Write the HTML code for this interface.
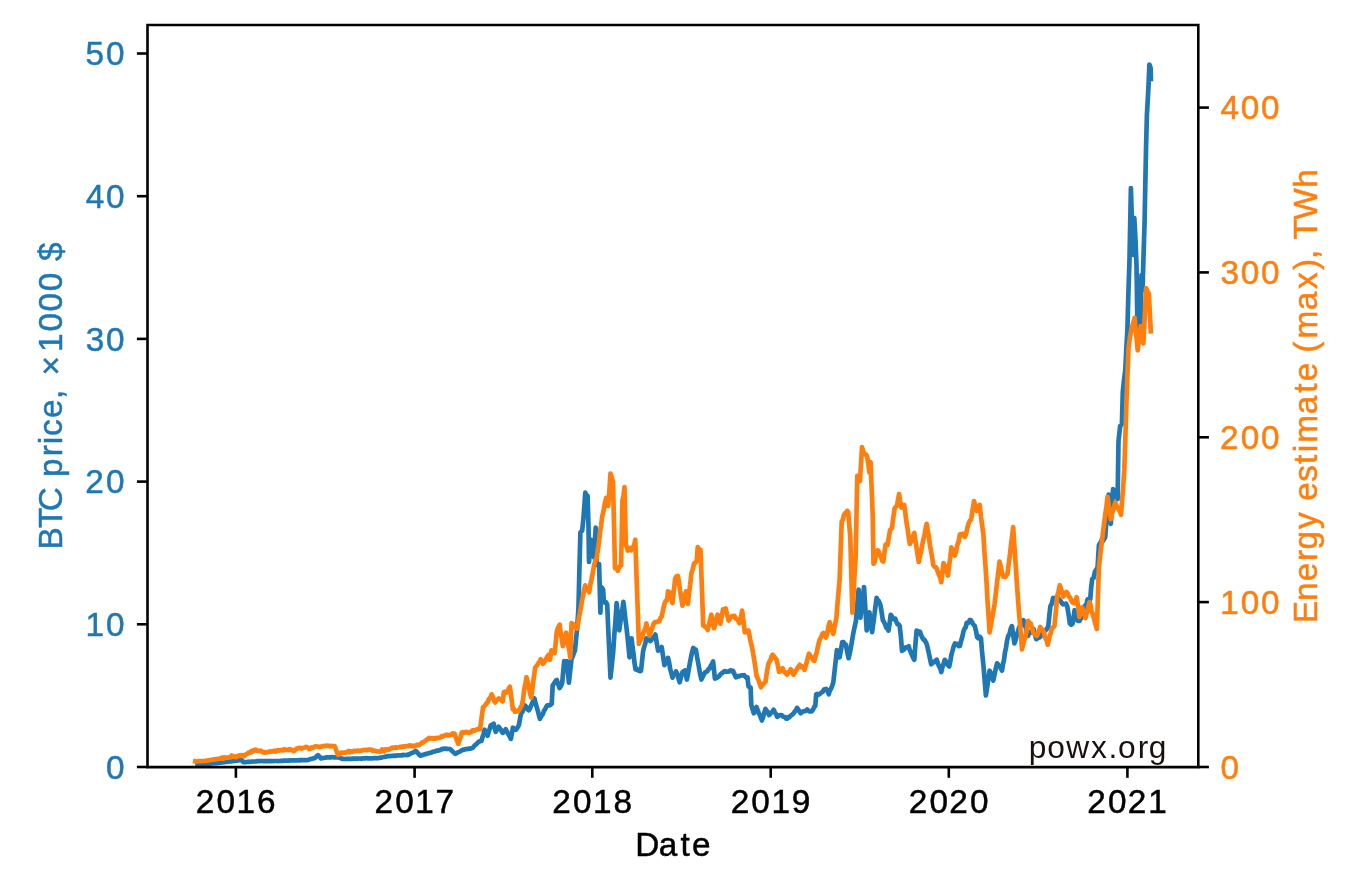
<!DOCTYPE html><html><head><meta charset="utf-8"><style>html,body{margin:0;padding:0;background:#fff;overflow:hidden}svg{display:block;will-change:transform}text{font-family:"Liberation Sans",sans-serif}</style></head><body>
<svg width="1353" height="889" viewBox="0 0 1353 889">
<rect width="1353" height="889" fill="#fff"/>
<polyline points="197.6,765.2 198.6,765.1 199.6,765.0 200.7,764.8 201.7,764.6 202.7,764.5 203.7,764.4 204.7,764.2 205.8,764.1 206.8,764.0 207.8,763.9 208.8,763.8 209.9,763.7 210.9,763.5 212.0,763.5 213.0,763.3 214.0,763.1 215.1,763.2 216.1,763.0 217.2,763.1 218.2,762.8 219.3,762.7 220.3,762.7 221.3,762.5 222.4,762.4 223.4,762.2 224.5,762.1 225.5,762.0 226.5,762.0 227.5,761.8 228.5,761.6 229.5,761.4 230.5,761.4 231.5,761.3 232.5,761.2 233.5,761.0 234.5,761.0 235.5,760.7 236.5,760.6 237.5,760.6 238.5,760.3 239.5,760.2 240.5,760.1 241.5,760.0 242.5,761.3 243.5,762.2 244.5,762.1 245.6,762.1 246.6,762.0 247.6,761.9 248.6,761.7 249.7,761.9 250.7,761.7 251.7,761.7 252.8,761.5 253.8,761.5 254.8,761.5 255.9,761.5 256.9,761.2 257.9,761.1 258.9,761.1 260.0,761.1 261.0,761.0 262.0,761.0 263.0,761.1 264.0,761.0 265.0,761.1 266.0,761.2 267.0,761.1 268.0,761.0 269.0,761.1 270.0,761.2 271.0,761.2 272.0,761.0 273.0,761.1 274.0,761.0 275.0,761.0 276.0,761.0 277.0,761.0 278.0,761.1 279.0,761.0 280.0,761.0 281.0,760.8 282.0,760.8 283.0,760.8 284.0,760.5 285.0,760.7 286.0,760.7 287.0,760.6 288.0,760.7 289.0,760.6 290.0,760.4 291.0,760.5 292.0,760.4 293.0,760.4 294.0,760.4 295.0,760.5 296.0,760.4 297.0,760.3 298.0,760.4 299.0,760.1 300.0,760.4 301.0,760.1 302.0,760.2 303.0,760.1 304.0,760.0 305.0,760.1 306.0,760.2 307.0,760.1 308.0,760.0 309.0,759.6 310.0,759.3 311.0,758.9 312.1,758.7 313.1,758.4 314.1,758.2 315.1,757.8 316.6,756.3 318.0,755.2 319.0,756.2 320.0,757.2 321.0,758.4 322.2,758.1 323.4,758.0 324.5,757.8 325.7,757.6 326.9,757.3 328.0,757.4 329.0,757.4 330.1,757.2 331.2,757.4 332.3,757.1 333.3,757.3 334.4,757.5 335.5,757.3 336.6,757.3 337.6,757.3 338.7,757.3 339.9,757.9 341.1,758.4 342.3,759.0 343.3,758.9 344.3,759.0 345.4,759.0 346.4,758.9 347.4,758.9 348.4,758.9 349.4,758.9 350.5,758.8 351.5,758.8 352.5,758.7 353.5,758.6 354.5,758.6 355.5,758.7 356.6,758.7 357.6,758.6 358.6,758.5 359.6,758.5 360.6,758.7 361.7,758.6 362.7,758.4 363.7,758.4 364.7,758.4 365.7,758.2 366.8,758.2 367.8,758.3 368.8,758.3 369.8,758.3 370.8,758.3 371.9,758.3 372.9,758.3 373.9,758.1 374.9,758.0 375.9,758.1 377.0,758.3 378.0,758.1 379.0,758.0 380.0,757.7 381.1,757.6 382.1,757.5 383.1,757.0 384.2,757.0 385.2,756.6 386.3,756.6 387.3,756.2 388.3,756.2 389.3,756.1 390.3,756.2 391.4,755.9 392.4,755.8 393.4,756.0 394.4,755.6 395.4,755.9 396.4,755.6 397.4,755.4 398.5,755.5 399.5,755.4 400.5,755.4 401.5,755.2 402.5,755.3 403.5,754.9 404.5,755.0 405.6,755.0 406.6,755.2 407.6,754.6 408.6,754.8 409.6,754.2 410.6,753.5 411.6,753.0 412.7,752.7 413.7,752.1 414.7,751.7 415.7,750.9 416.9,752.0 418.0,753.3 419.2,754.6 420.4,755.6 421.5,755.4 422.5,754.9 423.6,754.8 424.7,754.2 425.8,754.2 426.8,753.7 427.9,753.4 429.0,753.1 430.1,752.9 431.1,752.7 432.2,752.1 433.2,751.8 434.2,751.5 435.2,751.4 436.2,750.9 437.2,750.5 438.2,750.6 439.3,750.1 440.3,750.1 441.3,749.4 442.3,748.9 443.3,749.1 444.3,748.8 445.3,748.5 446.5,748.9 447.6,748.9 448.8,749.0 450.0,749.1 451.1,750.1 452.1,751.0 453.2,752.0 454.2,752.8 455.3,753.9 456.4,753.4 457.5,752.6 458.6,752.0 459.7,751.6 460.8,751.0 461.9,750.1 463.0,749.7 464.1,749.8 465.1,749.2 466.2,749.2 467.2,749.1 468.3,748.7 469.3,748.5 470.4,748.6 471.4,748.2 472.5,747.9 473.5,747.0 474.5,745.6 475.5,744.8 476.5,744.1 477.5,742.9 478.5,741.9 479.5,741.4 480.5,741.1 481.5,740.9 482.5,737.1 483.6,733.6 484.6,729.7 485.6,731.8 486.6,734.0 487.6,735.8 488.6,732.2 489.6,729.3 490.6,725.7 491.6,724.9 492.7,724.3 493.7,723.7 494.7,728.2 495.7,731.8 496.7,730.1 497.7,728.4 498.7,726.7 499.7,728.2 500.8,729.6 501.8,731.7 502.8,732.8 503.8,732.0 504.8,730.6 505.8,729.2 506.8,731.2 507.8,733.3 508.9,735.0 509.9,737.1 510.9,738.9 511.9,733.4 512.9,727.7 513.9,728.4 514.9,729.5 515.9,729.7 516.9,728.5 518.0,726.8 519.0,724.7 520.5,716.0 521.6,712.7 522.7,711.5 523.8,708.4 524.9,705.5 525.9,706.5 526.9,707.8 527.9,709.5 528.9,710.2 530.0,708.3 531.1,705.8 532.2,703.2 533.3,700.8 534.4,698.4 535.5,702.9 536.6,706.6 537.7,710.4 538.8,714.6 539.9,718.9 540.9,716.9 541.9,715.2 542.9,714.0 544.0,710.7 545.0,709.5 546.0,707.4 547.0,705.5 548.2,705.2 549.4,705.3 550.5,704.8 551.7,703.9 552.7,685.4 553.7,684.0 554.8,682.4 555.8,680.6 556.8,680.0 558.1,684.0 559.5,688.1 560.9,686.1 562.2,682.7 563.2,671.7 564.2,661.1 565.5,661.6 566.9,661.1 567.9,672.3 568.9,682.7 570.2,670.8 571.6,658.4 572.7,656.5 573.9,652.9 575.0,650.3 576.0,639.5 577.0,630.0 578.4,609.7 579.4,569.6 580.4,532.3 582.2,530.5 583.5,517.8 585.3,492.6 586.5,495.5 587.6,495.8 588.5,526.8 589.0,562.0 590.7,539.5 592.0,541.3 593.9,557.5 595.7,527.7 596.6,565.0 597.9,564.1 599.1,564.1 600.4,612.7 601.1,587.0 602.1,588.0 603.1,589.7 603.8,600.5 604.9,602.7 606.1,602.4 607.2,604.6 608.3,630.5 609.4,653.8 610.5,677.6 611.9,664.4 613.2,651.9 614.3,635.1 615.5,620.4 616.6,603.2 618.0,615.6 619.3,630.3 620.3,622.6 621.3,616.1 622.4,609.2 623.4,601.9 624.4,610.4 625.4,619.2 626.4,626.9 627.4,635.7 628.5,646.4 629.5,657.3 630.5,648.8 631.5,638.4 632.5,646.7 633.5,653.6 634.5,662.9 635.5,669.5 636.6,668.5 637.7,670.1 638.8,670.7 639.9,671.2 641.0,670.8 642.0,661.4 643.0,651.9 644.1,647.1 645.3,643.4 646.4,638.4 647.4,638.9 648.4,640.1 649.4,638.1 650.4,641.1 651.4,640.1 652.4,637.8 653.4,637.9 654.4,636.4 655.4,634.5 656.8,643.2 658.1,650.7 659.3,649.2 660.5,648.6 661.7,647.1 663.0,655.9 664.4,665.1 665.6,662.8 666.8,660.2 668.0,657.9 669.1,662.3 670.2,669.1 671.4,673.2 672.5,677.7 673.7,674.4 674.9,674.0 676.1,671.4 677.3,674.2 678.5,678.5 679.7,682.3 681.0,677.0 682.4,672.3 683.8,671.1 685.1,670.5 686.9,679.5 688.1,673.0 689.3,666.1 690.5,659.7 691.9,652.8 693.2,648.0 694.5,648.9 695.9,649.8 697.2,657.7 698.6,665.1 700.0,673.4 701.4,679.5 702.8,676.6 704.1,674.1 705.2,672.3 706.3,671.7 707.3,671.3 708.4,669.2 709.5,668.7 710.7,665.8 711.9,664.3 713.1,661.5 714.9,678.6 716.1,678.0 717.3,677.5 718.5,676.8 719.6,675.3 720.7,674.1 721.7,673.4 722.8,672.4 723.9,671.4 724.9,671.1 725.9,671.6 727.0,671.6 728.0,671.6 729.0,671.5 730.0,670.6 731.1,670.4 732.1,671.5 733.1,671.0 734.5,674.2 735.8,677.3 736.8,677.1 737.9,676.1 738.9,676.4 739.9,675.9 740.9,675.5 742.0,675.4 743.0,675.5 744.1,675.1 745.2,676.6 746.4,677.7 747.5,677.5 748.5,686.6 749.5,686.7 750.6,687.6 751.3,704.8 752.5,709.1 753.8,713.3 755.1,709.7 756.5,707.0 757.6,710.0 758.7,713.1 759.7,714.7 760.8,717.7 761.9,720.5 763.1,717.1 764.3,712.8 765.5,708.8 766.7,710.9 767.9,712.2 769.1,715.1 770.2,713.7 771.4,712.7 772.5,711.6 773.6,709.7 774.8,712.3 776.1,714.3 777.3,716.9 778.5,716.1 779.7,715.0 780.9,715.1 782.0,715.3 783.0,716.7 784.0,716.9 785.1,717.0 786.2,718.6 787.2,718.7 788.2,717.2 789.3,717.3 790.4,715.9 791.4,715.2 792.5,714.4 793.5,713.3 794.7,711.6 795.9,710.2 797.1,707.9 798.3,709.7 799.5,711.4 800.7,713.3 801.8,712.4 802.9,711.5 804.0,711.1 805.0,711.1 806.1,710.5 807.2,709.5 808.3,710.5 809.5,711.5 810.6,711.2 811.7,711.4 812.9,709.8 814.1,707.2 815.3,705.9 816.2,694.2 817.3,693.9 818.5,694.8 819.6,693.8 820.7,693.3 821.8,692.3 822.9,691.7 823.9,689.6 825.0,689.3 826.1,688.8 827.5,690.8 828.8,694.2 829.9,690.2 831.0,688.8 832.2,685.9 833.3,682.5 835.1,666.3 836.9,650.1 838.2,653.6 839.6,657.3 841.0,649.9 842.3,642.0 843.5,642.1 844.7,644.2 845.9,644.7 847.2,652.0 848.6,658.2 849.8,653.3 850.9,647.3 852.1,640.4 853.2,633.9 854.5,627.5 855.9,621.3 857.2,604.7 858.6,589.7 860.4,617.7 861.6,606.9 862.8,597.9 864.0,587.0 865.4,609.2 866.7,630.3 868.0,621.3 869.4,612.3 870.8,623.7 872.1,632.1 873.2,624.1 874.4,615.0 875.5,606.2 876.6,597.8 877.6,599.9 878.6,600.8 879.6,602.8 880.6,605.8 881.8,613.4 882.9,620.4 884.0,621.9 885.1,624.2 886.3,627.6 887.4,628.4 888.5,630.6 889.6,623.9 890.7,614.8 891.8,616.2 892.9,619.0 894.1,619.3 895.2,618.6 896.3,621.6 897.4,624.2 898.6,624.4 899.7,626.1 900.9,636.8 902.0,650.8 903.1,650.1 904.2,649.4 905.4,647.6 906.5,647.3 907.6,647.5 908.7,646.3 909.8,650.1 910.9,652.5 912.1,655.3 913.2,657.9 914.3,659.8 915.5,643.3 916.6,630.6 917.7,631.1 918.9,633.0 920.0,631.7 921.1,635.1 922.2,637.5 923.3,639.4 924.5,639.8 925.6,641.9 926.7,644.0 927.8,648.4 929.0,654.1 930.1,659.2 931.2,664.3 932.3,663.4 933.4,661.8 934.6,661.9 935.7,660.5 936.8,659.8 937.9,663.5 939.0,666.2 940.2,668.1 941.3,672.1 942.4,667.1 943.6,663.9 944.7,659.8 945.8,661.1 947.0,663.5 948.1,665.4 949.2,666.5 950.3,661.3 951.4,654.8 952.5,650.8 953.8,646.2 955.0,643.5 956.2,644.6 957.5,643.9 958.7,646.2 959.9,646.0 961.1,641.0 962.4,636.5 963.6,631.1 964.6,628.5 965.7,627.3 966.7,622.8 967.7,623.4 968.8,622.3 969.8,619.9 970.8,620.3 971.8,621.6 972.8,623.6 973.8,624.9 974.8,626.1 976.0,631.0 977.2,637.3 978.5,638.3 979.7,636.7 981.0,638.5 982.2,653.6 983.5,666.1 984.7,680.8 985.9,695.5 987.1,687.9 988.4,678.4 989.6,670.7 990.8,673.0 992.1,677.3 993.3,680.6 994.6,674.3 995.8,668.4 997.1,663.3 998.3,664.7 999.5,666.5 1000.8,668.2 1002.0,670.7 1003.0,664.1 1004.0,659.9 1005.0,652.4 1006.0,647.7 1007.0,641.0 1008.2,636.1 1009.5,634.0 1010.7,628.7 1011.9,626.1 1013.1,634.4 1014.4,643.5 1015.6,639.9 1016.9,634.8 1018.1,631.1 1019.2,627.2 1020.2,626.3 1021.3,624.5 1022.3,623.0 1023.4,620.3 1024.6,623.3 1025.8,627.8 1026.9,632.0 1028.1,635.8 1029.2,633.0 1030.3,633.0 1031.3,631.0 1032.4,630.7 1033.5,629.0 1034.8,634.0 1036.2,639.2 1037.2,638.5 1038.2,636.2 1039.2,637.5 1040.2,637.1 1041.2,635.4 1042.2,633.6 1043.2,632.6 1044.2,630.6 1045.3,630.5 1046.3,629.6 1047.3,628.2 1048.3,626.3 1049.3,615.7 1050.4,606.1 1051.8,603.8 1053.1,598.0 1054.2,599.4 1055.3,597.9 1056.4,599.4 1057.4,599.6 1058.5,598.3 1059.5,600.3 1060.5,600.7 1061.6,602.6 1062.7,604.3 1063.8,604.1 1064.9,604.3 1066.1,603.6 1067.2,606.1 1068.6,614.7 1069.9,623.6 1071.2,624.8 1072.6,623.6 1073.6,617.0 1074.6,610.2 1075.7,616.1 1076.7,619.6 1078.1,621.0 1079.4,620.9 1080.6,619.0 1081.8,614.8 1082.9,610.2 1084.1,607.5 1085.2,605.3 1086.4,604.7 1087.5,599.4 1088.8,598.9 1090.2,599.4 1091.2,587.2 1092.2,579.1 1093.6,577.9 1094.9,571.7 1096.2,569.9 1097.6,567.0 1098.9,545.4 1100.0,543.2 1101.0,541.9 1102.1,539.2 1103.1,541.0 1104.2,538.9 1105.2,537.3 1106.3,522.2 1107.5,508.2 1108.6,494.6 1109.7,508.6 1110.8,523.8 1111.9,507.9 1113.1,489.0 1114.2,491.3 1115.3,496.0 1116.5,495.4 1117.6,499.1 1118.5,441.0 1120.2,426.0 1121.9,424.0 1122.8,392.0 1124.0,380.1 1125.3,370.0 1126.3,349.3 1127.4,330.0 1128.3,296.0 1129.5,260.0 1130.9,188.0 1132.2,230.0 1133.2,255.0 1134.3,218.0 1135.5,240.0 1136.5,265.0 1137.5,330.0 1139.0,300.0 1140.3,330.0 1141.5,275.0 1142.5,290.0 1143.5,256.7 1144.5,225.0 1146.0,150.0 1146.9,115.0 1147.8,99.0 1148.6,84.0 1149.4,64.5 1150.6,68.0 1150.9,79.0" fill="none" stroke="#1f77b4" stroke-width="4.7" stroke-linejoin="round" stroke-linecap="square"/>
<polyline points="195.3,761.3 196.4,761.5 197.4,761.2 198.5,761.2 199.5,761.2 200.6,761.2 201.6,761.0 202.7,761.0 203.7,761.0 204.8,761.0 205.8,760.7 206.9,760.6 207.9,760.5 208.9,760.3 210.0,760.1 211.0,760.1 212.0,759.8 213.1,759.4 214.1,759.7 215.2,759.2 216.2,758.9 217.2,759.2 218.3,759.0 219.3,758.8 220.3,758.2 221.4,758.5 222.4,757.6 223.4,758.7 224.5,757.4 225.5,757.8 226.5,757.6 227.6,757.6 228.6,757.5 229.7,757.2 230.7,757.4 231.8,755.5 232.8,756.8 233.9,756.7 234.9,756.5 236.0,757.2 237.0,756.0 238.1,756.2 239.1,755.3 240.2,756.1 241.2,755.2 242.3,755.1 243.3,755.7 244.3,756.2 245.3,755.0 246.3,754.3 247.3,753.9 248.3,752.8 249.3,752.5 250.3,752.6 251.3,751.1 252.3,751.7 253.3,750.3 254.3,750.7 255.3,749.7 256.3,749.8 257.4,750.9 258.5,751.0 259.6,750.8 260.7,750.6 261.8,751.5 262.9,752.2 264.0,752.7 265.1,752.0 266.2,752.4 267.2,752.5 268.3,751.9 269.4,751.5 270.5,751.9 271.5,751.2 272.6,751.5 273.7,751.0 274.7,750.7 275.8,751.5 276.8,750.6 277.9,750.1 278.9,750.6 279.9,750.2 281.0,750.0 282.0,750.2 283.1,750.5 284.1,749.2 285.2,750.0 286.2,749.9 287.2,749.8 288.3,750.1 289.3,749.1 290.4,749.9 291.4,749.6 292.6,750.1 293.8,751.0 295.0,750.1 296.1,749.1 297.3,748.4 298.4,748.0 299.4,747.8 300.5,748.1 301.5,748.7 302.6,748.0 303.6,747.8 304.7,747.5 305.7,746.9 306.8,747.0 308.0,747.8 309.2,748.9 310.4,748.6 311.6,747.4 312.8,747.8 313.9,747.3 315.1,746.3 316.2,746.3 317.2,746.5 318.3,746.7 319.4,747.1 320.5,746.6 321.5,746.7 322.6,746.1 323.7,746.3 324.8,745.9 325.8,745.9 326.9,745.8 328.0,745.6 329.1,746.1 330.2,746.5 331.3,745.8 332.4,746.0 333.5,746.2 334.6,746.0 335.8,749.0 336.9,752.3 338.1,754.9 339.2,754.4 340.2,753.2 341.2,752.6 342.3,752.5 343.4,752.7 344.4,752.5 345.5,752.6 346.5,752.1 347.6,752.0 348.6,751.1 349.7,752.3 350.7,751.2 351.8,751.5 352.8,751.8 353.9,750.8 354.9,750.9 356.0,751.1 357.0,750.8 358.1,750.5 359.1,751.1 360.2,750.9 361.2,750.7 362.3,750.3 363.3,750.0 364.4,750.0 365.4,749.9 366.5,750.0 367.5,750.2 368.6,749.7 369.6,749.7 370.6,749.5 371.7,749.8 372.7,750.9 373.8,750.6 374.8,750.8 375.9,751.0 376.9,751.4 378.0,751.4 379.0,751.5 380.1,751.7 381.2,751.3 382.2,749.4 383.3,750.3 384.4,751.4 385.5,749.3 386.6,749.6 387.7,749.8 388.7,749.0 389.8,749.4 390.9,748.5 391.9,747.8 392.9,747.6 394.0,748.0 395.0,747.6 396.0,747.3 397.0,747.8 398.0,747.5 399.1,747.3 400.1,746.9 401.1,747.1 402.1,746.8 403.1,746.3 404.2,746.7 405.2,746.5 406.2,746.2 407.2,746.1 408.2,746.3 409.2,745.4 410.2,745.8 411.2,745.5 412.2,746.2 413.2,745.8 414.2,746.4 415.2,746.1 416.2,745.1 417.2,744.7 418.2,745.3 419.2,745.0 420.2,744.1 421.3,743.5 422.3,742.3 423.4,742.3 424.4,741.4 425.4,740.8 426.5,740.0 427.5,739.1 428.5,738.5 429.5,737.8 430.5,738.6 431.5,738.3 432.5,738.2 433.5,738.7 434.5,738.1 435.5,738.7 436.5,737.9 437.5,738.0 438.5,737.8 439.5,737.8 440.5,737.3 441.7,736.1 442.9,736.6 444.1,735.5 445.2,735.4 446.2,734.7 447.3,735.3 448.3,735.0 449.4,735.2 450.5,734.8 451.5,734.5 452.6,733.4 453.6,734.8 454.7,733.8 455.9,737.8 457.1,740.8 458.3,743.8 459.5,740.3 460.6,736.9 461.8,732.6 462.8,732.1 463.9,732.8 464.9,732.4 466.0,731.8 467.0,732.4 468.0,732.3 469.1,732.9 470.1,732.0 471.1,732.1 472.1,730.6 473.1,730.2 474.1,730.8 475.1,730.4 476.1,729.8 477.1,729.2 478.1,729.5 479.1,728.7 480.1,729.0 481.6,717.9 483.0,707.5 484.1,706.7 485.3,705.1 486.5,703.3 487.6,702.4 488.6,699.8 489.6,698.2 490.6,697.3 491.6,694.3 492.8,696.7 494.0,700.6 495.2,702.4 496.4,700.6 497.5,699.6 498.7,698.4 499.7,699.5 500.8,699.5 501.8,700.7 502.8,701.4 503.8,692.3 504.8,691.6 505.8,692.7 506.8,692.3 507.8,691.1 508.9,688.2 509.9,686.7 510.9,694.4 511.9,701.7 512.9,709.5 513.9,708.8 514.9,711.7 516.0,711.0 517.0,711.5 518.0,711.5 519.3,709.7 520.5,707.6 521.8,705.5 523.0,699.7 524.1,690.3 525.3,684.1 526.5,677.2 527.7,682.1 528.9,687.3 530.0,692.9 531.2,697.6 532.2,689.7 533.2,681.9 534.2,674.5 535.2,667.7 536.3,666.3 537.4,664.8 538.5,663.0 539.6,661.8 540.7,659.1 541.9,661.1 543.0,663.8 544.1,662.7 545.2,660.7 546.3,658.5 547.4,656.4 548.5,655.1 550.0,659.7 551.4,650.3 552.5,651.8 553.6,651.7 554.7,653.0 555.8,642.0 556.8,631.4 558.2,627.3 559.7,624.6 560.7,633.0 561.8,639.0 562.8,646.2 563.9,641.4 565.1,637.0 566.2,632.7 567.2,638.8 568.2,645.3 569.3,650.4 570.3,657.7 571.6,623.2 573.0,623.8 574.3,626.0 575.6,627.6 577.0,628.6 578.0,623.9 579.0,617.1 580.0,612.5 581.0,606.6 582.1,599.9 583.1,596.0 584.1,590.0 585.1,585.4 586.1,587.8 587.2,588.6 588.2,590.5 589.2,592.2 590.3,585.0 591.4,580.0 592.8,572.8 594.1,565.4 595.5,559.8 596.8,557.3 597.9,549.4 599.0,542.2 600.0,532.0 601.1,525.6 602.2,516.8 603.5,511.1 604.9,503.2 606.2,497.8 607.2,501.7 608.2,505.9 609.4,490.6 610.5,473.5 611.8,477.6 613.0,481.6 614.0,524.5 615.0,568.1 616.4,567.9 617.7,570.8 618.8,568.1 620.0,566.0 621.1,565.4 622.4,500.5 623.5,495.7 624.5,487.0 625.8,543.8 626.8,547.4 627.8,550.5 628.9,549.8 630.0,548.3 631.0,550.3 632.1,547.4 633.2,547.8 634.2,544.9 635.3,539.7 636.5,575.3 637.7,609.2 638.9,643.8 640.0,641.1 641.2,639.2 642.3,637.0 643.3,632.7 644.3,630.7 645.4,628.0 646.4,623.5 647.5,628.2 648.6,632.3 649.7,635.7 651.0,631.2 652.3,627.9 653.6,623.7 654.7,622.3 655.9,622.0 657.0,622.2 658.1,621.0 659.3,621.2 660.5,618.0 661.7,616.5 663.0,610.2 664.4,603.9 665.8,600.7 667.1,600.3 668.0,591.3 669.4,592.3 670.7,593.1 672.5,603.0 673.9,590.1 675.2,578.6 676.5,576.2 677.9,575.9 679.0,582.2 680.1,590.9 681.3,598.0 682.4,605.7 683.6,601.4 684.8,595.9 686.0,591.3 687.8,603.9 689.0,593.7 690.2,584.6 691.4,573.2 692.8,568.9 694.1,563.3 695.5,562.6 696.8,560.6 697.7,547.1 699.1,549.6 700.5,549.8 701.9,587.8 703.2,625.5 704.3,625.9 705.5,627.2 706.6,627.8 707.7,630.0 708.9,625.1 710.1,619.5 711.3,614.7 712.6,621.8 714.0,628.2 715.2,624.3 716.4,618.6 717.6,614.7 719.0,619.3 720.3,623.7 721.6,617.4 723.0,609.3 724.4,608.9 725.7,608.4 727.2,615.1 728.6,620.5 729.8,618.9 731.0,616.8 732.2,616.0 733.3,616.5 734.5,616.0 735.6,618.5 736.7,618.7 738.0,620.6 739.4,623.2 740.8,617.8 742.1,610.6 743.5,620.6 744.8,632.3 746.0,631.8 747.2,631.3 748.4,630.5 749.5,635.8 750.6,641.5 751.8,646.2 752.9,652.1 754.1,659.2 755.3,666.9 756.5,675.5 757.6,678.1 758.8,680.9 759.9,684.4 761.0,687.2 762.1,685.6 763.2,684.1 764.4,682.7 765.5,681.8 766.9,672.1 768.2,664.7 769.3,662.0 770.5,660.0 771.6,656.4 772.7,654.8 773.9,656.1 775.2,658.2 776.4,659.3 777.8,665.2 779.1,671.9 780.3,670.8 781.5,669.2 782.7,668.3 783.8,671.3 785.0,672.3 786.1,673.7 787.2,674.6 788.4,672.4 789.6,671.4 790.8,669.2 792.1,671.8 793.5,674.6 794.5,673.2 795.6,671.0 796.6,669.7 797.7,667.5 798.8,666.5 799.8,664.7 801.0,667.1 802.1,666.5 803.3,667.8 804.5,669.9 805.6,666.2 806.8,662.3 807.9,657.5 809.0,653.7 810.1,655.5 811.2,656.8 812.2,658.4 813.3,660.3 814.4,660.9 815.5,656.2 816.6,652.7 817.6,648.1 818.7,643.2 819.8,639.3 821.0,637.5 822.2,634.2 823.4,633.0 824.8,634.2 826.1,637.5 827.3,633.1 828.5,626.5 829.7,622.2 830.9,627.3 832.1,630.7 833.3,633.9 834.3,628.2 835.4,622.6 836.4,617.9 837.5,603.5 838.5,592.2 839.6,579.5 840.7,549.3 841.7,521.8 842.8,519.9 843.9,515.4 845.0,513.2 846.0,513.8 847.1,510.8 848.2,512.2 849.2,524.2 850.3,536.8 851.3,575.8 852.4,612.6 853.5,594.1 854.5,575.6 855.6,558.1 857.3,475.9 858.6,478.2 859.9,481.2 861.0,464.5 862.0,447.1 863.1,451.0 864.2,453.5 865.3,454.7 866.3,454.7 867.4,457.8 868.5,465.5 869.5,472.7 870.6,462.0 871.7,489.5 872.7,515.4 873.5,563.8 874.6,562.3 875.6,557.2 876.7,553.8 877.8,550.3 878.9,552.1 879.9,555.4 881.0,557.0 882.2,560.7 883.4,561.5 884.5,552.3 885.6,544.7 887.5,545.0 888.8,537.6 890.1,530.0 892.0,528.0 893.3,517.4 894.6,508.6 895.8,506.7 897.0,506.0 898.0,499.8 899.1,494.0 900.2,501.1 901.4,507.5 902.8,505.6 904.2,505.0 905.3,512.6 906.4,521.7 907.6,528.8 908.7,536.8 909.8,544.0 910.9,541.5 912.0,538.2 913.2,535.9 914.3,532.8 915.4,540.5 916.5,547.4 917.7,555.5 918.8,562.0 919.9,556.4 921.1,551.5 922.2,545.2 923.3,539.9 924.5,535.1 925.6,528.6 926.7,523.8 927.8,530.3 928.9,536.7 930.0,545.6 931.2,551.9 932.3,558.6 933.4,565.4 934.5,567.0 935.7,567.0 936.8,568.8 937.9,572.2 939.0,575.1 940.2,577.4 941.3,582.2 942.4,572.4 943.5,563.1 944.6,565.5 945.8,570.5 946.9,571.8 948.0,575.5 949.1,565.6 950.3,557.6 951.4,547.4 952.6,550.1 953.8,551.7 955.0,555.5 956.2,550.4 957.5,544.4 958.7,541.1 959.9,534.5 960.9,534.1 961.9,534.9 962.9,533.8 963.9,535.9 964.9,537.0 966.1,534.0 967.4,527.8 968.6,523.3 969.9,520.7 971.1,519.6 972.5,510.6 974.0,501.1 975.4,505.8 976.7,511.0 977.7,508.9 978.7,508.9 979.7,504.8 980.9,516.3 982.2,525.9 983.4,534.5 984.4,552.2 985.5,566.3 986.5,581.9 987.5,600.3 988.6,616.3 989.6,632.3 990.6,626.6 991.6,620.8 992.6,615.7 993.6,609.9 994.6,603.8 995.8,593.5 997.0,583.1 998.3,572.1 999.5,561.7 1000.7,566.4 1002.0,572.8 1003.2,576.6 1004.3,575.8 1005.4,576.9 1006.4,575.2 1007.5,574.1 1008.6,564.7 1009.8,556.2 1010.9,545.5 1012.1,536.3 1013.2,527.1 1014.4,545.8 1015.7,565.0 1016.9,584.0 1017.9,597.6 1018.9,611.6 1020.0,623.5 1021.0,635.5 1022.0,649.3 1023.1,644.7 1024.3,640.0 1025.4,637.1 1026.8,629.5 1028.1,620.9 1029.4,622.9 1030.8,623.6 1032.2,628.6 1033.5,633.1 1034.6,634.2 1035.8,635.3 1036.9,635.8 1038.0,633.2 1039.1,630.4 1040.2,627.0 1041.3,628.7 1042.5,629.5 1043.6,631.7 1044.6,635.6 1045.7,639.0 1046.7,640.3 1047.7,644.6 1048.7,640.5 1049.7,636.0 1050.7,633.2 1051.7,629.0 1053.1,627.4 1054.4,626.3 1055.8,612.5 1057.1,596.7 1058.4,591.8 1059.8,585.2 1060.9,588.7 1062.1,592.5 1063.2,596.7 1064.3,594.7 1065.4,593.9 1066.5,591.9 1067.7,593.4 1068.9,596.6 1070.1,597.4 1071.3,600.7 1072.4,602.4 1073.5,602.9 1074.6,603.4 1075.7,599.5 1076.7,597.3 1078.1,606.5 1079.4,616.9 1080.8,612.3 1082.1,607.5 1083.2,611.3 1084.3,612.6 1085.4,618.2 1086.4,614.3 1087.5,611.3 1088.5,605.8 1089.5,602.1 1090.5,604.8 1091.5,610.4 1092.5,613.4 1093.5,616.9 1094.6,621.1 1095.8,625.4 1096.9,629.0 1097.9,597.1 1098.9,567.0 1099.9,558.0 1100.9,549.3 1101.9,541.8 1103.0,531.9 1104.1,523.6 1105.3,514.0 1106.4,507.2 1107.5,496.9 1108.6,504.8 1109.7,512.5 1110.8,519.3 1111.9,513.7 1113.0,510.7 1114.2,506.6 1115.3,502.5 1116.4,505.1 1117.6,507.8 1118.7,509.2 1119.9,511.6 1121.0,514.8 1122.1,500.6 1123.2,486.7 1124.3,469.9 1125.4,436.6 1126.5,400.0 1127.5,373.6 1128.5,347.6 1129.8,338.2 1131.2,330.0 1132.3,326.1 1133.5,322.2 1134.6,317.8 1135.6,330.1 1136.7,339.3 1137.7,350.3 1138.7,341.6 1139.7,334.9 1140.7,326.0 1142.1,334.2 1143.4,343.5 1144.8,315.1 1146.1,288.1 1147.4,291.2 1148.8,293.5 1149.8,312.3 1150.8,331.4" fill="none" stroke="#ff7f0e" stroke-width="4.7" stroke-linejoin="round" stroke-linecap="square"/>
<path d="M147.5,767.1 V25.0 H1198.3 V767.1 Z" fill="none" stroke="#000" stroke-width="2.6" stroke-linejoin="miter"/>
<line x1="136.9" y1="767.0" x2="147.5" y2="767.0" stroke="#000" stroke-width="2.6"/>
<text x="105.92" y="778.80" font-size="33.3" fill="#1f77b4" stroke="#1f77b4" stroke-width="0.5">0</text>
<line x1="136.9" y1="624.3" x2="147.5" y2="624.3" stroke="#000" stroke-width="2.6"/>
<text x="85.52 105.92" y="636.10" font-size="33.3" fill="#1f77b4" stroke="#1f77b4" stroke-width="0.5">10</text>
<line x1="136.9" y1="481.6" x2="147.5" y2="481.6" stroke="#000" stroke-width="2.6"/>
<text x="85.26 105.92" y="493.40" font-size="33.3" fill="#1f77b4" stroke="#1f77b4" stroke-width="0.5">20</text>
<line x1="136.9" y1="338.9" x2="147.5" y2="338.9" stroke="#000" stroke-width="2.6"/>
<text x="85.73 105.92" y="350.70" font-size="33.3" fill="#1f77b4" stroke="#1f77b4" stroke-width="0.5">30</text>
<line x1="136.9" y1="196.2" x2="147.5" y2="196.2" stroke="#000" stroke-width="2.6"/>
<text x="85.68 105.92" y="208.00" font-size="33.3" fill="#1f77b4" stroke="#1f77b4" stroke-width="0.5">40</text>
<line x1="136.9" y1="53.5" x2="147.5" y2="53.5" stroke="#000" stroke-width="2.6"/>
<text x="85.56 105.92" y="65.30" font-size="33.3" fill="#1f77b4" stroke="#1f77b4" stroke-width="0.5">50</text>
<line x1="1198.3" y1="767.0" x2="1208.9" y2="767.0" stroke="#000" stroke-width="2.6"/>
<text x="1220.50" y="778.80" font-size="33.3" fill="#ff7f0e" stroke="#ff7f0e" stroke-width="0.5">0</text>
<line x1="1198.3" y1="602.1" x2="1208.9" y2="602.1" stroke="#000" stroke-width="2.6"/>
<text x="1220.33 1240.73 1260.96" y="613.95" font-size="33.3" fill="#ff7f0e" stroke="#ff7f0e" stroke-width="0.5">100</text>
<line x1="1198.3" y1="437.3" x2="1208.9" y2="437.3" stroke="#000" stroke-width="2.6"/>
<text x="1220.08 1240.73 1260.96" y="449.10" font-size="33.3" fill="#ff7f0e" stroke="#ff7f0e" stroke-width="0.5">200</text>
<line x1="1198.3" y1="272.4" x2="1208.9" y2="272.4" stroke="#000" stroke-width="2.6"/>
<text x="1220.54 1240.73 1260.96" y="284.25" font-size="33.3" fill="#ff7f0e" stroke="#ff7f0e" stroke-width="0.5">300</text>
<line x1="1198.3" y1="107.6" x2="1208.9" y2="107.6" stroke="#000" stroke-width="2.6"/>
<text x="1220.50 1240.73 1260.96" y="119.40" font-size="33.3" fill="#ff7f0e" stroke="#ff7f0e" stroke-width="0.5">400</text>
<line x1="235.9" y1="767.1" x2="235.9" y2="777.8" stroke="#000" stroke-width="2.6"/>
<text x="195.86 216.52 236.58 256.98" y="812.50" font-size="33.3" fill="#000" stroke="#000" stroke-width="0.5">2016</text>
<line x1="414.6" y1="767.1" x2="414.6" y2="777.8" stroke="#000" stroke-width="2.6"/>
<text x="374.56 395.22 415.28 435.62" y="812.50" font-size="33.3" fill="#000" stroke="#000" stroke-width="0.5">2017</text>
<line x1="592.3" y1="767.1" x2="592.3" y2="777.8" stroke="#000" stroke-width="2.6"/>
<text x="552.26 572.92 592.98 613.38" y="812.50" font-size="33.3" fill="#000" stroke="#000" stroke-width="0.5">2018</text>
<line x1="770.7" y1="767.1" x2="770.7" y2="777.8" stroke="#000" stroke-width="2.6"/>
<text x="730.66 751.32 771.38 791.68" y="812.50" font-size="33.3" fill="#000" stroke="#000" stroke-width="0.5">2019</text>
<line x1="948.8" y1="767.1" x2="948.8" y2="777.8" stroke="#000" stroke-width="2.6"/>
<text x="908.76 929.42 949.23 969.88" y="812.50" font-size="33.3" fill="#000" stroke="#000" stroke-width="0.5">2020</text>
<line x1="1127.4" y1="767.1" x2="1127.4" y2="777.8" stroke="#000" stroke-width="2.6"/>
<text x="1087.36 1108.02 1127.83 1148.31" y="812.50" font-size="33.3" fill="#000" stroke="#000" stroke-width="0.5">2021</text>
<text x="635.17 658.67 680.40 691.92" y="855.80" font-size="33.3" fill="#000" stroke="#000" stroke-width="0.5">Date</text>
<text x="-549.61 -528.09 -511.27 -487.61 -476.97 -456.29 -444.14 -436.06 -418.11 -399.10 -388.72 -375.52 -351.91 -331.60 -311.47 -291.33 -271.59 -261.04" y="62.00" font-size="33.3" fill="#1f77b4" stroke="#1f77b4" stroke-width="0.5" transform="rotate(-90)">BTC price, ×1000 $</text>
<text x="-623.01 -601.02 -581.32 -560.88 -549.44 -528.97 -510.92 -500.77 -481.75 -463.95 -452.36 -442.71 -414.34 -392.75 -381.35 -362.06 -352.65 -338.53 -310.16 -289.10 -269.92 -258.99 -248.64 -239.53 -219.86 -187.78" y="1317.00" font-size="33.3" fill="#ff7f0e" stroke="#ff7f0e" stroke-width="0.5" transform="rotate(-90)">Energy estimate (max), TWh</text>
<text x="1028.64 1047.31 1066.28 1091.07 1108.41 1118.08 1137.67 1148.65" y="758.00" font-size="31.7" fill="#1a1010">powx.org</text>
</svg></body></html>
